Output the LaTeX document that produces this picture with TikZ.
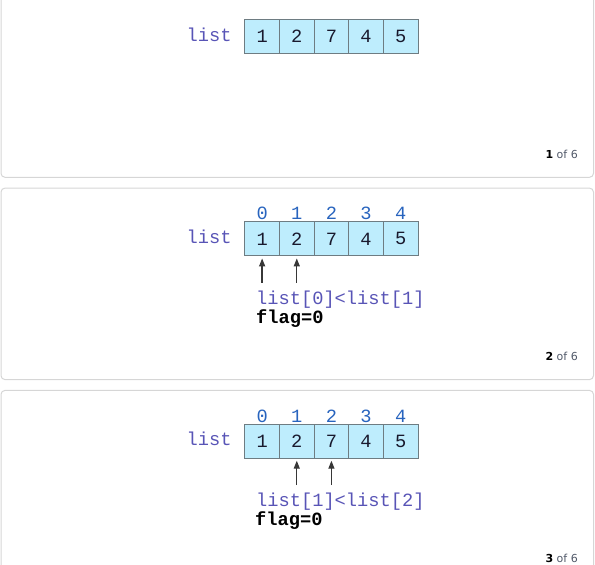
\documentclass[tikz,border=0pt]{standalone}
\usepackage{fontspec}
\setmainfont{DejaVu Sans}
\newfontfamily\monof{Liberation Mono}
\usetikzlibrary{arrows.meta}
\definecolor{panelline}{RGB}{214,214,214}
\definecolor{cellfill}{RGB}{190,237,253}
\definecolor{cellline}{RGB}{110,124,130}
\definecolor{celltext}{RGB}{25,25,45}
\definecolor{listcol}{RGB}{88,84,182}
\definecolor{idxcol}{RGB}{40,100,190}
\definecolor{ptrcol}{RGB}{55,55,55}
\definecolor{pagecol}{RGB}{80,88,104}
\tikzset{
  panel/.style={draw=panelline, line width=1pt, rounded corners=4pt},
  cellbox/.style={draw=cellline, fill=cellfill, line width=1pt, minimum width=34.65pt,
    minimum height=34pt, inner sep=0pt, anchor=north west, text=celltext,
    font=\monof\fontsize{18.7}{22}\selectfont},
  idx/.style={anchor=base, inner sep=0pt, text=idxcol, font=\monof\fontsize{18.7}{22}\selectfont},
  lbl/.style={anchor=base west, inner sep=0pt, text=listcol, font=\monof\fontsize{18.7}{22}\selectfont},
  codetxt/.style={anchor=base west, inner sep=0pt, text=listcol, font=\monof\fontsize{18.7}{22}\selectfont},
  flagtxt/.style={anchor=base west, inner sep=0pt, text=black, font=\monof\bfseries\fontsize{18.7}{22}\selectfont},
  pagelbl/.style={anchor=base east, inner sep=0pt, text=pagecol, font=\fontsize{11}{13}\selectfont},
  ptr/.style={-{Triangle[length=8pt,width=6pt]}, line width=1.3pt, draw=ptrcol, shorten >=2pt}
}
\begin{document}
\begin{tikzpicture}[x=1pt,y=-1pt]
\useasboundingbox (0,0) rectangle (595,565);
\clip (0,0) rectangle (595,565);
\foreach \k/\T in {1/-14.2, 2/188.1, 3/390.4} {
  \draw[panel] (1,\T) rectangle (593.5,\T+191.5);
  \node[lbl] (p\k list) at (186.5,\T+55.2) {list};
  \foreach \v [count=\i from 0] in {1,2,7,4,5}
    \node[cellbox] (p\k c\i) at (244.3+34.65*\i,\T+33.3) {\v};
  \node[pagelbl] (p\k page) at (578,\T+172.2) {\textcolor{black}{\textbf{\k}} of 6};
}
% panel 2
\foreach \i in {0,...,4}
  \node[idx] (p2i\i) at ([yshift=1.5pt]p2c\i.north) {\i};
\coordinate (p2a0) at ([yshift=-26.5pt]p2c0.south);
\coordinate (p2a1) at ([yshift=-26.5pt]p2c1.south);
\draw[ptr] (p2a0) -- (p2c0.south);
\draw[ptr] (p2a1) -- (p2c1.south);
\node[codetxt] (p2cmp) at (256,304.5) {list[0]<list[1]};
\node[flagtxt] (p2flag) at (256,323.5) {flag=0};
% panel 3
\foreach \i in {0,...,4}
  \node[idx] (p3i\i) at ([yshift=1.5pt]p3c\i.north) {\i};
\coordinate (p3a1) at ([yshift=-26.5pt]p3c1.south);
\coordinate (p3a2) at ([yshift=-26.5pt]p3c2.south);
\draw[ptr] (p3a1) -- (p3c1.south);
\draw[ptr] (p3a2) -- (p3c2.south);
\node[codetxt] (p3cmp) at (256,506.8) {list[1]<list[2]};
\node[flagtxt] (p3flag) at (255,525.8) {flag=0};
\end{tikzpicture}
\end{document}
